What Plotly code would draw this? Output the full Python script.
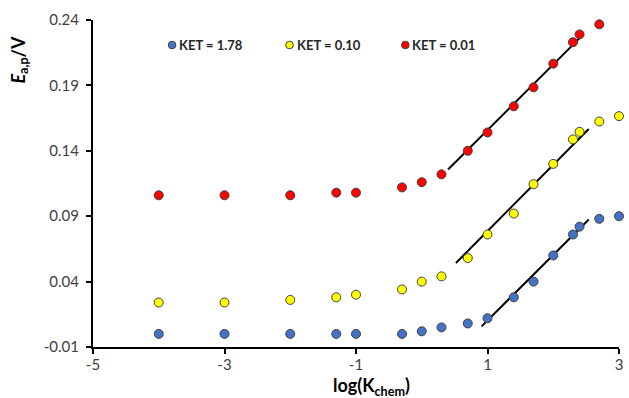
import plotly.graph_objects as go

# ---- data ----
series_names = ["KET = 1.78", "KET = 0.10", "KET = 0.01"]
series_colors = ["#4472C4", "#FFFF00", "#FF0000"]

log_k = [-4, -3, -2, -1.3, -1, -0.3, 0, 0.3, 0.7, 1.0, 1.4, 1.7, 2.0, 2.3, 2.4, 2.7, 3.0]

e_ket_178 = [0.000, 0.000, 0.000, 0.000, 0.000, 0.000, 0.002, 0.005, 0.008, 0.012,
             0.028, 0.040, 0.060, 0.076, 0.082, 0.088, 0.090]
e_ket_010 = [0.024, 0.024, 0.026, 0.028, 0.030, 0.034, 0.040, 0.044, 0.058, 0.076,
             0.092, 0.1145, 0.130, 0.1487, 0.1545, 0.1624, 0.1665]
log_k_red = [-4, -3, -2, -1.3, -1, -0.3, 0, 0.3, 0.7, 1.0, 1.4, 1.7, 2.0, 2.3, 2.4, 2.7]
e_ket_001 = [0.106, 0.106, 0.106, 0.108, 0.108, 0.112, 0.116, 0.122, 0.140, 0.154,
             0.174, 0.1885, 0.2066, 0.223, 0.229, 0.2367]

# linear trend lines (slope, intercept, x-start, x-end)
trend_slope = [0.0501, 0.0507, 0.0502]
trend_intercept = [-0.0398, 0.0279, 0.1056]
trend_x_start = [0.91, 0.52, 0.40]
trend_x_end = [2.54, 2.54, 2.42]

x_ticks = [-5, -3, -1, 1, 3]
y_ticks = [-0.01, 0.04, 0.09, 0.14, 0.19, 0.24]

xs = [log_k, log_k, log_k_red]
ys = [e_ket_178, e_ket_010, e_ket_001]

FONT = "Lato, 'Open Sans', sans-serif"

fig = go.Figure()

for i in range(3):
    x0, x1 = trend_x_start[i], trend_x_end[i]
    fig.add_trace(go.Scatter(
        x=[x0, x1],
        y=[trend_slope[i] * x0 + trend_intercept[i], trend_slope[i] * x1 + trend_intercept[i]],
        mode="lines", line=dict(color="black", width=2),
        showlegend=False, hoverinfo="skip", cliponaxis=False))

for i in range(3):
    fig.add_trace(go.Scatter(
        x=xs[i], y=ys[i], mode="markers", name=series_names[i],
        marker=dict(size=9, color=series_colors[i], line=dict(color="#404040", width=1)),
        showlegend=False, cliponaxis=False))

# custom legend (markers + bold labels) placed in the top of the plot area
legend_marker_x = [172.7, 291.0, 407.7]
legend_y_px = 45
W, H = 629, 398
L, R, T, B = 93, 6, 20, 51.3
pw, ph = W - L - R, H - T - B
for i in range(3):
    px = (legend_marker_x[i] - L) / pw
    py = 1 - (legend_y_px - T) / ph
    fig.add_shape(type="circle", xref="paper", yref="paper",
                  xsizemode="pixel", ysizemode="pixel",
                  xanchor=px, yanchor=py, x0=-3.8, x1=3.8, y0=-3.8, y1=3.8,
                  fillcolor=series_colors[i], line=dict(color="#404040", width=1))
    fig.add_annotation(x=px, y=py, xref="paper", yref="paper", xshift=5,
                       text="<b>" + series_names[i] + "</b>", showarrow=False,
                       xanchor="left", yanchor="middle",
                       font=dict(family=FONT, size=13, color="#262626"))

# axis titles
fig.add_annotation(x=(18 - L) / pw, y=1 - (60 - T) / ph, xref="paper", yref="paper",
                   text="<b><i>E</i><sub>a,p</sub>/V</b>", textangle=-90, showarrow=False,
                   xanchor="center", yanchor="middle",
                   font=dict(family=FONT, size=18, color="#000000"))
fig.add_annotation(x=(374 - L) / pw, y=1 - (386 - T) / ph, xref="paper", yref="paper",
                   text="<b>log(K<sub>chem</sub>)</b>", showarrow=False,
                   xanchor="center", yanchor="middle",
                   font=dict(family=FONT, size=18, color="#000000"))

fig.update_layout(
    width=W, height=H,
    margin=dict(l=L, r=R, t=T, b=B),
    paper_bgcolor="white", plot_bgcolor="white",
    showlegend=False,
    xaxis=dict(range=[-5, 3], tickvals=x_ticks, ticktext=[str(v) for v in x_ticks],
               showgrid=False, zeroline=False, showline=True, linecolor="black", linewidth=2,
               ticks="outside", ticklen=5, tickwidth=2, tickcolor="black",
               ticklabelstandoff=-2,
               tickfont=dict(family=FONT, size=15, color="#404040")),
    yaxis=dict(range=[-0.01, 0.24], tickvals=y_ticks, ticktext=["%.2f" % v for v in y_ticks],
               showgrid=False, zeroline=False, showline=True, linecolor="black", linewidth=2,
               ticks="outside", ticklen=5, tickwidth=2, tickcolor="black",
               ticklabelstandoff=4,
               tickfont=dict(family=FONT, size=15, color="#404040")),
)

fig.write_html("out.html", config={"displayModeBar": False},
               post_script="document.body.style.margin='0';document.body.style.padding='0';")
